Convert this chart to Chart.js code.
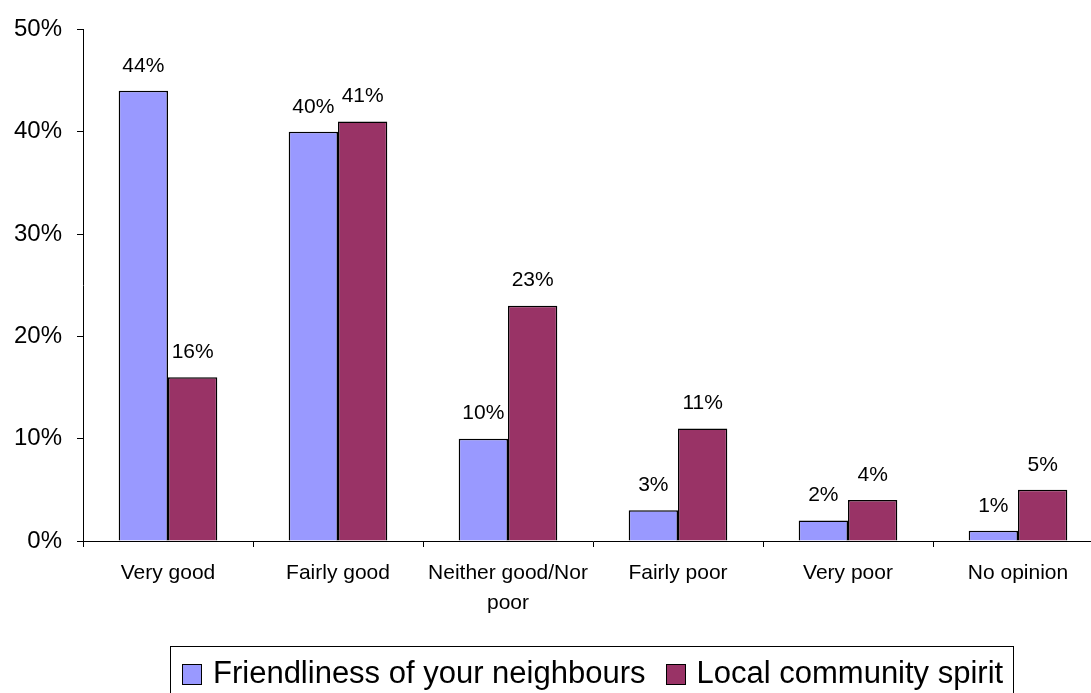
<!DOCTYPE html>
<html>
<head>
<meta charset="utf-8">
<script src="https://cdn.jsdelivr.net/npm/chart.js@4/dist/chart.umd.min.js"></script>
<style>
  html, body { margin: 0; padding: 0; background: #fff; overflow: hidden; }
  #wrap { position: relative; width: 1105px; height: 693px; }
  #legend {
    position: absolute; left: 170px; top: 646px; width: 844px; height: 60px;
    border: 1px solid #000; box-sizing: border-box;
    font-family: "Liberation Sans", Arial, sans-serif; font-size: 31px; color: #000;
    display: flex; align-items: flex-start; padding: 8px 0 0 11px; white-space: nowrap;
  }
  .item { display: flex; align-items: center; margin-right: 20px; }
  .sw { width: 18px; height: 19px; border: 1px solid #000; margin-right: 11px; margin-top: 2px; }
</style>
</head>
<body>
<div id="wrap">
  <canvas id="salesChart" width="1105" height="693"></canvas>
  <div id="legend"></div>
</div>
<script>
const categories = ["Very good", "Fairly good", ["Neither good/Nor", "poor"], "Fairly poor", "Very poor", "No opinion"];
const seriesNames = ["Friendliness of your neighbours", "Local community spirit"];
const friendliness = [44, 40, 10, 3, 2, 1];
const communitySpirit = [16, 41, 23, 11, 4, 5];
const yTicks = [0, 10, 20, 30, 40, 50];
const colors = ["#9999FF", "#993366"];

const fontFamily = "'Liberation Sans', Arial, sans-serif";

// value labels above each bar
const barLabels = {
    id: "barLabels",
    afterDatasetsDraw(chart) {
        const ctx = chart.ctx;
        ctx.save();
        ctx.font = "21px " + fontFamily;
        ctx.fillStyle = "#000";
        ctx.textAlign = "center";
        ctx.textBaseline = "middle";
        chart.data.datasets.forEach(function (ds, i) {
            chart.getDatasetMeta(i).data.forEach(function (bar, j) {
                ctx.fillText(ds.data[j] + "%", bar.x, bar.y - 25);
            });
        });
        ctx.restore();
    }
};

const canvas = document.getElementById("salesChart").getContext("2d");

window.myChart = new Chart(canvas, {
    type: "bar",
    data: {
        labels: categories,
        datasets: [
            {
                label: seriesNames[0],
                data: friendliness,
                backgroundColor: colors[0],
                borderColor: "#000",
                borderWidth: 1.5,
            },
            {
                label: seriesNames[1],
                data: communitySpirit,
                backgroundColor: colors[1],
                borderColor: "#000",
                borderWidth: 1.5,
            },
        ],
    },
    options: {
        responsive: false,
        animation: false,
        layout: { padding: { top: 28, right: 2, bottom: 52, left: 0 } },
        plugins: {
            legend: { display: false },
            tooltip: { enabled: false },
        },
        datasets: {
            bar: { categoryPercentage: 0.58, barPercentage: 1.0 },
        },
        scales: {
            x: {
                grid: { display: true, drawOnChartArea: false, tickLength: 6, color: "#000" },
                border: { color: "#000", width: 1 },
                ticks: {
                    color: "#000",
                    padding: 11,
                    maxRotation: 0,
                    autoSkip: false,
                    // second line of "Neither good/Nor poor" sits ~30px lower
                    font: { family: fontFamily, size: 21, lineHeight: 1.42 },
                },
                afterFit(scale) { scale.height = 100; },
            },
            y: {
                min: 0,
                max: 50,
                afterBuildTicks(scale) { scale.ticks = yTicks.map(v => ({ value: v })); },
                grid: { display: true, drawOnChartArea: false, tickLength: 6, color: "#000" },
                border: { color: "#000", width: 1 },
                ticks: {
                    color: "#000",
                    padding: 15,
                    font: { family: fontFamily, size: 24 },
                    callback: v => v + "%",
                },
                afterFit(scale) { scale.width = 83; },
            },
        },
    },
    plugins: [barLabels],
});

// legend box
const legendEl = document.getElementById("legend");
seriesNames.forEach(function (name, i) {
    const item = document.createElement("div");
    item.className = "item";
    const sw = document.createElement("span");
    sw.className = "sw";
    sw.style.background = colors[i];
    const txt = document.createElement("span");
    txt.textContent = name;
    item.appendChild(sw);
    item.appendChild(txt);
    legendEl.appendChild(item);
});
</script>
</body>
</html>
